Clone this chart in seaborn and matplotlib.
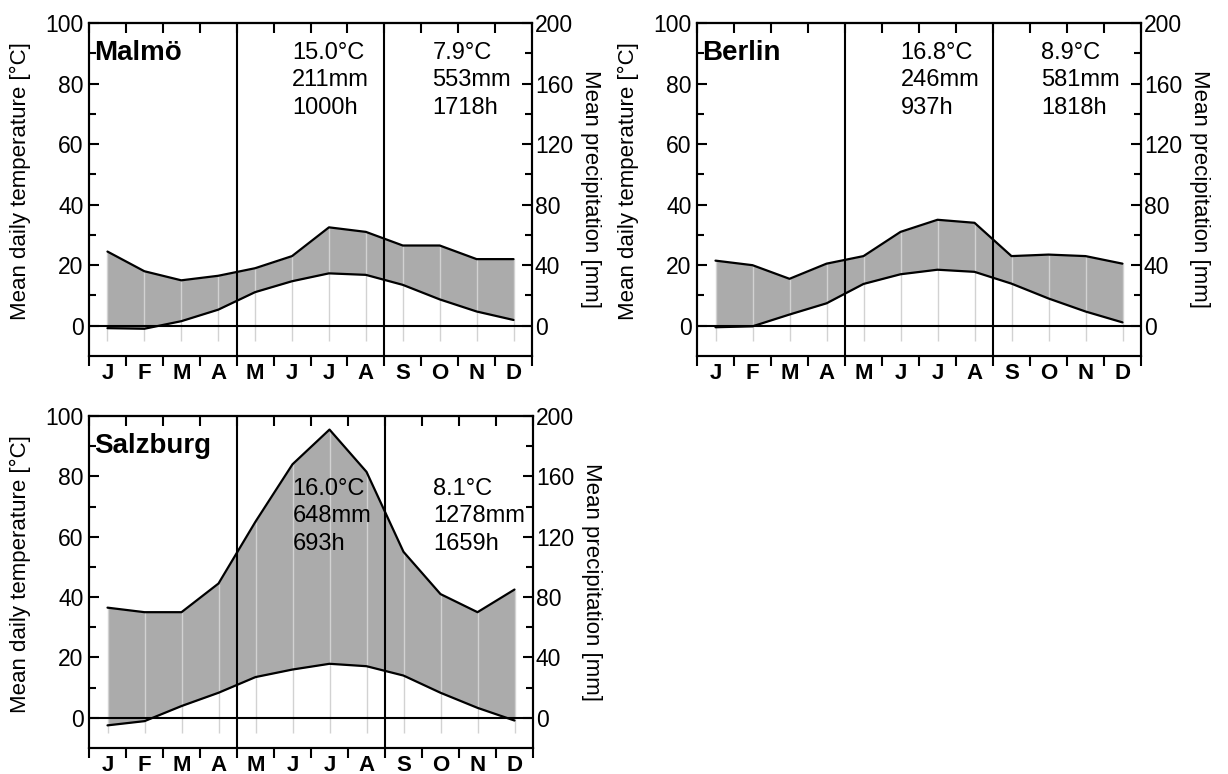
import numpy as np
import pandas as pd
import matplotlib
matplotlib.use("Agg")
import matplotlib.pyplot as plt
import seaborn as sns
from matplotlib.ticker import FixedLocator, NullFormatter

# ---------------- data ----------------
months = ["J", "F", "M", "A", "M", "J", "J", "A", "S", "O", "N", "D"]

cities = ["Malmö", "Berlin", "Salzburg"]

malmo_temp = [-0.8, -1.0, 1.5, 5.3, 11.1, 14.7, 17.3, 16.8, 13.5, 8.7, 4.7, 1.9]
malmo_prec = [49, 36, 30, 33, 38, 46, 65, 62, 53, 53, 44, 44]

berlin_temp = [-0.5, -0.2, 3.7, 7.4, 13.8, 17.0, 18.5, 17.8, 13.9, 9.0, 4.7, 1.1]
berlin_prec = [43, 40, 31, 41, 46, 62, 70, 68, 46, 47, 46, 41]

salzburg_temp = [-2.5, -1.1, 3.9, 8.3, 13.5, 16.0, 17.9, 17.1, 14.0, 8.3, 3.3, -0.9]
salzburg_prec = [73, 70, 70, 89, 130, 168, 191, 163, 110, 82, 70, 85]

summer_stats = ["15.0°C\n211mm\n1000h", "16.8°C\n246mm\n937h", "16.0°C\n648mm\n693h"]
annual_stats = ["7.9°C\n553mm\n1718h", "8.9°C\n581mm\n1818h", "8.1°C\n1278mm\n1659h"]

temps = [malmo_temp, berlin_temp, salzburg_temp]
precs = [malmo_prec, berlin_prec, salzburg_prec]

# ---------------- style ----------------
sns.set_theme(style="ticks")
plt.rcParams['font.family'] = ['Liberation Sans', 'DejaVu Sans']
plt.rcParams['axes.linewidth'] = 1.5
for k in ["text.color", "axes.labelcolor", "xtick.color", "ytick.color", "axes.edgecolor"]:
    plt.rcParams[k] = "black"

fig = plt.figure(figsize=(12.28, 7.74), dpi=100)

W, H = 1228, 774
boxes = [(89, 23, 532, 356), (697, 23, 1141, 356), (89, 416, 533, 748)]
stat_y = [93.8, 93.8, 79.5]

for i, city in enumerate(cities):
    x0, y0, x1, y1 = boxes[i]
    ax = fig.add_axes([x0 / W, 1 - y1 / H, (x1 - x0) / W, (y1 - y0) / H])
    t = np.array(temps[i], dtype=float)
    p = np.array(precs[i], dtype=float)
    xm = np.arange(12) + 0.5
    df = pd.DataFrame({"x": xm, "temp": t, "prec": p})

    ax.fill_between(xm, t, p / 2, color="#ababab", lw=0, zorder=1)
    ax.vlines(xm, -5, np.maximum(t, p / 2), color="#d2d2d2", lw=1.0, zorder=2)
    ax.axhline(0, color="black", lw=1.5, zorder=3)
    ax.axvline(4, color="black", lw=1.5, zorder=3)
    ax.axvline(8, color="black", lw=1.5, zorder=3)
    sns.lineplot(data=df, x="x", y="temp", ax=ax, color="black", lw=1.6, zorder=4)

    ax.set_xlim(0, 12)
    ax.set_ylim(-10, 100)
    ax.set_yticks([0, 20, 40, 60, 80, 100])
    ax.yaxis.set_minor_locator(FixedLocator([10, 30, 50, 70, 90]))
    ax.tick_params(axis="y", which="both", direction="in", left=True, right=False,
                   labelsize=16.5, pad=4, width=1.5)
    ax.tick_params(axis="y", which="major", length=7)
    ax.tick_params(axis="y", which="minor", length=5)

    ax.set_xticks(np.arange(13))
    ax.xaxis.set_major_formatter(NullFormatter())
    ax.xaxis.set_minor_locator(FixedLocator(xm))
    ax.set_xticklabels(months, minor=True, fontweight="bold", fontsize=16)
    ax.tick_params(axis="x", which="major", direction="out", length=7, width=1.5,
                   bottom=True, top=False)
    ax.tick_params(axis="x", which="minor", length=0, pad=5)

    sec = ax.secondary_xaxis("top")
    sec.set_xticks(np.arange(13))
    sec.tick_params(direction="in", length=7, width=1.5, labeltop=False)

    ax.set_xlabel("")
    ax.set_ylabel("Mean daily temperature [°C]", fontsize=16, labelpad=10)
    ax.yaxis.label.set_y(0.525)

    ax2 = ax.twinx()
    sns.lineplot(data=df, x="x", y="prec", ax=ax2, color="black", lw=1.6, zorder=4)
    ax2.set_ylim(-20, 200)
    ax2.set_yticks([0, 40, 80, 120, 160, 200])
    ax2.yaxis.set_minor_locator(FixedLocator([20, 60, 100, 140, 180]))
    ax2.tick_params(axis="y", which="both", direction="in", labelsize=16.5, pad=2, width=1.5)
    ax2.tick_params(axis="y", which="major", length=7)
    ax2.tick_params(axis="y", which="minor", length=5)
    ax2.set_xlabel("")
    ax2.set_ylabel("Mean precipitation [mm]", fontsize=16, rotation=270,
                   va="bottom", labelpad=5)
    for a in (ax, ax2):
        for s in a.spines.values():
            s.set_linewidth(1.5)
            s.set_color("black")

    ax.text(0.15, 90, city, fontsize=20, fontweight="bold", va="center", ha="left", zorder=6)
    ax.text(5.5, stat_y[i], summer_stats[i], fontsize=17, va="top", ha="left",
            linespacing=1.32, zorder=6)
    ax.text(9.3, stat_y[i], annual_stats[i], fontsize=17, va="top", ha="left",
            linespacing=1.32, zorder=6)

fig.savefig("out.png", dpi=100)
